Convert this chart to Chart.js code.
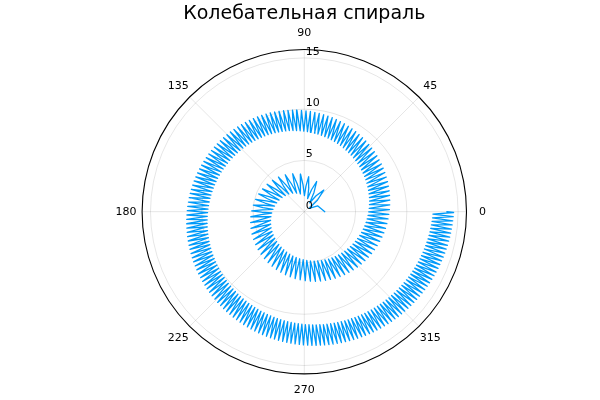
<!DOCTYPE html>
<html><head><meta charset="utf-8">
<script src="https://cdn.jsdelivr.net/npm/chart.js@4"></script>
<style>html,body{margin:0;padding:0;background:#fff}canvas{display:block}</style>
</head><body>
<canvas id="c" width="600" height="400"></canvas>
<script>
const chartTitle = "Колебательная спираль";
const angleTicks = [0, 45, 90, 135, 180, 225, 270, 315];
const radialTicks = [0, 5, 10, 15];
const rMax = 15.82;

// angle (radians) of each vertex of the curve
const theta = [
0,0.418,0.591,0.724,0.836,0.934,1.023,1.105,1.182,1.253,
1.321,1.386,1.447,1.506,1.563,1.618,1.671,1.723,1.772,1.821,
1.868,1.914,1.960,2.004,2.047,2.089,2.130,2.171,2.211,2.250,
2.288,2.326,2.363,2.400,2.436,2.472,2.507,2.541,2.575,2.609,
2.642,2.675,2.707,2.740,2.771,2.803,2.833,2.864,2.894,2.924,
2.954,2.983,3.013,3.041,3.070,3.098,3.126,3.154,3.182,3.209,
3.236,3.289,3.342,3.394,3.445,3.495,3.546,3.594,3.643,3.690,
3.737,3.783,3.829,3.874,3.919,3.964,4.008,4.051,4.094,4.136,
4.178,4.219,4.261,4.301,4.342,4.382,4.421,4.460,4.499,4.538,
4.576,4.614,4.652,4.689,4.726,4.763,4.800,4.836,4.872,4.908,
4.943,4.978,5.013,5.048,5.082,5.116,5.150,5.184,5.218,5.251,
5.284,5.316,5.348,5.380,5.412,5.445,5.477,5.509,5.541,5.573,
5.605,5.635,5.666,5.696,5.726,5.757,5.787,5.817,5.847,5.878,
5.908,5.937,5.966,5.995,6.024,6.053,6.081,6.110,6.139,6.168,
6.197,6.225,6.252,6.280,6.307,6.335,6.362,6.390,6.417,6.445,
6.472,6.498,6.525,6.551,6.578,6.604,6.630,6.657,6.683,6.710,
6.736,6.762,6.787,6.813,6.838,6.864,6.889,6.915,6.940,6.966,
6.991,7.016,7.040,7.065,7.089,7.114,7.138,7.163,7.187,7.212,
7.236,7.260,7.283,7.307,7.331,7.355,7.378,7.402,7.426,7.449,
7.473,7.496,7.519,7.542,7.565,7.588,7.611,7.634,7.657,7.680,
7.703,7.725,7.748,7.770,7.793,7.815,7.837,7.860,7.882,7.905,
7.927,7.949,7.970,7.992,8.014,8.036,8.057,8.079,8.101,8.122,
8.144,8.165,8.186,8.207,8.228,8.250,8.271,8.292,8.313,8.334,
8.355,8.376,8.396,8.417,8.438,8.459,8.479,8.500,8.521,8.541,
8.562,8.582,8.602,8.622,8.642,8.663,8.683,8.703,8.723,8.743,
8.763,8.783,8.802,8.822,8.842,8.862,8.881,8.901,8.921,8.940,
8.960,8.979,8.999,9.018,9.037,9.057,9.076,9.095,9.114,9.134,
9.153,9.172,9.191,9.210,9.229,9.248,9.266,9.285,9.304,9.323,
9.342,9.361,9.379,9.398,9.416,9.435,9.453,9.472,9.490,9.509,
9.527,9.545,9.563,9.581,9.599,9.618,9.636,9.654,9.672,9.690,
9.708,9.726,9.743,9.761,9.779,9.797,9.815,9.833,9.850,9.868,
9.886,9.904,9.921,9.939,9.956,9.974,9.991,10.009,10.026,10.044,
10.061,10.078,10.095,10.113,10.130,10.147,10.164,10.181,10.199,10.216,
10.233,10.250,10.267,10.284,10.301,10.318,10.334,10.351,10.368,10.385,
10.402,10.419,10.435,10.452,10.469,10.486,10.502,10.519,10.536,10.552,
10.569,10.585,10.602,10.618,10.635,10.651,10.667,10.684,10.700,10.717,
10.733,10.749,10.765,10.781,10.797,10.814,10.830,10.846,10.862,10.878,
10.894,10.910,10.926,10.942,10.958,10.974,10.989,11.005,11.021,11.037,
11.053,11.069,11.084,11.100,11.116,11.132,11.147,11.163,11.179,11.194,
11.210,11.226,11.241,11.257,11.272,11.288,11.303,11.319,11.334,11.350,
11.365,11.380,11.395,11.411,11.426,11.441,11.456,11.471,11.487,11.502,
11.517,11.532,11.547,11.562,11.577,11.593,11.608,11.623,11.638,11.653,
11.668,11.683,11.698,11.712,11.727,11.742,11.757,11.772,11.786,11.801,
11.816,11.831,11.845,11.860,11.875,11.890,11.904,11.919,11.934,11.948,
11.963,11.978,11.992,12.007,12.021,12.036,12.050,12.065,12.079,12.094,
12.108,12.122,12.137,12.151,12.165,12.180,12.194,12.208,12.222,12.237,
12.251,12.265,12.279,12.294,12.308,12.322,12.336,12.350,12.365,12.379,
12.393,12.407,12.421,12.435,12.449,12.463,12.477,12.491,12.505,12.519,
12.533,12.547,12.561,12.566
];

// radius of each vertex
const radius = [
2,1.418,0.591,1.724,2.836,1.934,1.023,2.105,3.182,2.253,
1.321,2.386,3.447,2.506,1.563,2.618,3.671,2.723,1.772,2.821,
3.868,2.914,1.960,3.004,4.047,3.089,2.130,3.171,4.211,3.250,
2.288,3.326,4.363,3.400,2.436,3.472,4.507,3.541,2.575,3.609,
4.642,3.675,2.707,3.740,4.771,3.803,2.833,3.864,4.894,3.924,
2.954,3.983,5.013,4.041,3.070,4.098,5.126,4.154,3.182,4.209,
5.236,3.289,5.342,3.394,5.445,3.495,5.546,3.594,5.643,3.690,
5.737,3.783,5.829,3.874,5.919,3.964,6.008,4.051,6.094,4.136,
6.178,4.219,6.261,4.301,6.342,4.382,6.421,4.460,6.499,4.538,
6.576,4.614,6.652,4.689,6.726,4.763,6.800,4.836,6.872,4.908,
6.943,4.978,7.013,5.048,7.082,5.116,7.150,5.184,7.218,5.251,
7.284,5.316,7.348,5.380,7.412,5.445,7.477,5.509,7.541,5.573,
7.605,5.635,7.666,5.696,7.726,5.757,7.787,5.817,7.847,5.878,
7.908,5.937,7.966,5.995,8.024,6.053,8.081,6.110,8.139,6.168,
8.197,6.225,8.252,6.280,8.307,6.335,8.362,6.390,8.417,6.445,
8.472,6.498,8.525,6.551,8.578,6.604,8.630,6.657,8.683,6.710,
8.736,6.762,8.787,6.813,8.838,6.864,8.889,6.915,8.940,6.966,
8.991,7.016,9.040,7.065,9.089,7.114,9.138,7.163,9.187,7.212,
9.236,7.260,9.283,7.307,9.331,7.355,9.378,7.402,9.426,7.449,
9.473,7.496,9.519,7.542,9.565,7.588,9.611,7.634,9.657,7.680,
9.703,7.725,9.748,7.770,9.793,7.815,9.837,7.860,9.882,7.905,
9.927,7.949,9.970,7.992,10.014,8.036,10.057,8.079,10.101,8.122,
10.144,8.165,10.186,8.207,10.228,8.250,10.271,8.292,10.313,8.334,
10.355,8.376,10.396,8.417,10.438,8.459,10.479,8.500,10.521,8.541,
10.562,8.582,10.602,8.622,10.642,8.663,10.683,8.703,10.723,8.743,
10.763,8.783,10.802,8.822,10.842,8.862,10.881,8.901,10.921,8.940,
10.960,8.979,10.999,9.018,11.037,9.057,11.076,9.095,11.114,9.134,
11.153,9.172,11.191,9.210,11.229,9.248,11.266,9.285,11.304,9.323,
11.342,9.361,11.379,9.398,11.416,9.435,11.453,9.472,11.490,9.509,
11.527,9.545,11.563,9.581,11.599,9.618,11.636,9.654,11.672,9.690,
11.708,9.726,11.743,9.761,11.779,9.797,11.815,9.833,11.850,9.868,
11.886,9.904,11.921,9.939,11.956,9.974,11.991,10.009,12.026,10.044,
12.061,10.078,12.095,10.113,12.130,10.147,12.164,10.181,12.199,10.216,
12.233,10.250,12.267,10.284,12.301,10.318,12.334,10.351,12.368,10.385,
12.402,10.419,12.435,10.452,12.469,10.486,12.502,10.519,12.536,10.552,
12.569,10.585,12.602,10.618,12.635,10.651,12.667,10.684,12.700,10.717,
12.733,10.749,12.765,10.781,12.797,10.814,12.830,10.846,12.862,10.878,
12.894,10.910,12.926,10.942,12.958,10.974,12.989,11.005,13.021,11.037,
13.053,11.069,13.084,11.100,13.116,11.132,13.147,11.163,13.179,11.194,
13.210,11.226,13.241,11.257,13.272,11.288,13.303,11.319,13.334,11.350,
13.365,11.380,13.395,11.411,13.426,11.441,13.456,11.471,13.487,11.502,
13.517,11.532,13.547,11.562,13.577,11.593,13.608,11.623,13.638,11.653,
13.668,11.683,13.698,11.712,13.727,11.742,13.757,11.772,13.786,11.801,
13.816,11.831,13.845,11.860,13.875,11.890,13.904,11.919,13.934,11.948,
13.963,11.978,13.992,12.007,14.021,12.036,14.050,12.065,14.079,12.094,
14.108,12.122,14.137,12.151,14.165,12.180,14.194,12.208,14.222,12.237,
14.251,12.265,14.279,12.294,14.308,12.322,14.336,12.350,14.365,12.379,
14.393,12.407,14.421,12.435,14.449,12.463,14.477,12.491,14.505,12.519,
14.533,12.547,14.561,13.905
];

// polar -> cartesian for the scatter scales
const points = theta.map((t, i) => ({ x: radius[i] * Math.cos(t), y: radius[i] * Math.sin(t) }));

const FONT = '"DejaVu Sans", "Liberation Sans", sans-serif';

const polarFrame = {
  id: 'polarFrame',
  beforeDatasetsDraw(chart) {
    const { ctx, scales: { x, y } } = chart;
    const cx = x.getPixelForValue(0), cy = y.getPixelForValue(0);
    const pr = v => x.getPixelForValue(v) - cx;
    const R = pr(rMax);
    ctx.save();
    ctx.strokeStyle = 'rgba(0,0,0,0.1)';
    ctx.lineWidth = 1;
    radialTicks.forEach(r => {
      if (r > 0) { ctx.beginPath(); ctx.arc(cx, cy, pr(r), 0, Math.PI * 2); ctx.stroke(); }
    });
    angleTicks.forEach(a => {
      const rad = a * Math.PI / 180;
      ctx.beginPath();
      ctx.moveTo(cx, cy);
      ctx.lineTo(cx + R * Math.cos(rad), cy - R * Math.sin(rad));
      ctx.stroke();
    });
    ctx.restore();
  },
  afterDatasetsDraw(chart) {
    const { ctx, scales: { x, y } } = chart;
    const cx = x.getPixelForValue(0), cy = y.getPixelForValue(0);
    const pr = v => x.getPixelForValue(v) - cx;
    const R = pr(rMax);
    ctx.save();
    ctx.strokeStyle = '#000';
    ctx.lineWidth = 1.1;
    ctx.beginPath(); ctx.arc(cx, cy, R, 0, Math.PI * 2); ctx.stroke();
    ctx.fillStyle = '#000';
    ctx.font = '11px ' + FONT;
    ctx.textAlign = 'center';
    ctx.textBaseline = 'middle';
    angleTicks.forEach(a => {
      const rad = a * Math.PI / 180;
      ctx.fillText(String(a), cx + (R + 16) * Math.cos(rad), cy - (R + 16) * Math.sin(rad));
    });
    ctx.textAlign = 'left';
    ctx.textBaseline = 'alphabetic';
    radialTicks.forEach(r => {
      ctx.fillText(String(r), cx + 1.5, cy - pr(r) - 3);
    });
    ctx.font = '19px ' + FONT;
    ctx.textAlign = 'center';
    ctx.textBaseline = 'middle';
    ctx.fillText(chartTitle, cx, 14);
    ctx.restore();
  }
};

new Chart(document.getElementById('c'), {
  type: 'scatter',
  data: {
    datasets: [{
      data: points,
      showLine: true,
      borderColor: '#009af9',
      borderWidth: 1.3,
      borderJoinStyle: 'round',
      borderCapStyle: 'round',
      pointRadius: 0,
      tension: 0,
      fill: false
    }]
  },
  options: {
    responsive: false,
    animation: false,
    events: [],
    layout: { padding: { left: 142.1, right: 133.5, top: 49.5, bottom: 26.1 } },
    plugins: { legend: { display: false }, title: { display: false }, tooltip: { enabled: false } },
    scales: {
      x: { type: 'linear', min: -rMax, max: rMax, display: false },
      y: { type: 'linear', min: -rMax, max: rMax, display: false }
    }
  },
  plugins: [polarFrame]
});
</script>
</body></html>
